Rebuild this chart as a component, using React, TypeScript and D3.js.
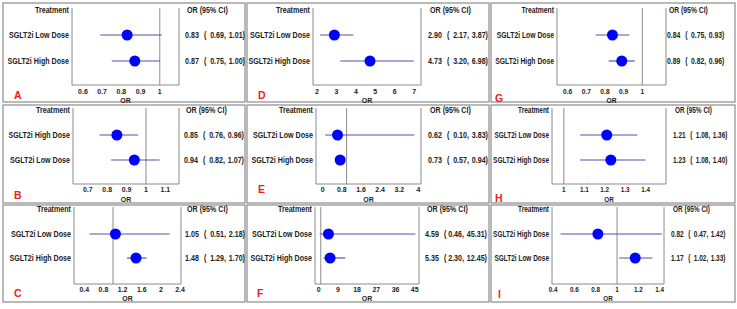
import * as d3 from 'd3'
import React from 'react'

// panels in reading order down each column
const panelIds = ['A', 'B', 'C', 'D', 'E', 'F', 'G', 'H', 'I']

const rowLabels = [
  ['SGLT2i Low Dose', 'SGLT2i High Dose'],
  ['SGLT2i High Dose', 'SGLT2i Low Dose'],
  ['SGLT2i Low Dose', 'SGLT2i High Dose'],
  ['SGLT2i Low Dose', 'SGLT2i High Dose'],
  ['SGLT2i Low Dose', 'SGLT2i High Dose'],
  ['SGLT2i Low Dose', 'SGLT2i High Dose'],
  ['SGLT2i Low Dose', 'SGLT2i High Dose'],
  ['SGLT2i Low Dose', 'SGLT2i High Dose'],
  ['SGLT2i High Dose', 'SGLT2i Low Dose']
]

const orValues = [
  [0.83, 0.87],
  [0.85, 0.94],
  [1.05, 1.48],
  [2.9, 4.73],
  [0.62, 0.73],
  [4.59, 5.35],
  [0.84, 0.89],
  [1.21, 1.23],
  [0.82, 1.17]
]
const ciLower = [
  [0.69, 0.75],
  [0.76, 0.82],
  [0.51, 1.29],
  [2.17, 3.2],
  [0.1, 0.57],
  [0.46, 2.3],
  [0.75, 0.82],
  [1.08, 1.08],
  [0.47, 1.02]
]
const ciUpper = [
  [1.01, 1.0],
  [0.96, 1.07],
  [2.18, 1.7],
  [3.87, 6.98],
  [3.83, 0.94],
  [45.31, 12.45],
  [0.93, 0.96],
  [1.36, 1.4],
  [1.42, 1.33]
]

const xDomains = [
  [0.543, 1.1],
  [0.624, 1.17],
  [0.185, 2.42],
  [1.8, 7.35],
  [-0.28, 4.11],
  [-1.7, 47],
  [0.543, 1.127],
  [0.942, 1.5],
  [0.39, 1.44]
]
const xTicks = [
  [0.6, 0.7, 0.8, 0.9, 1],
  [0.7, 0.8, 0.9, 1, 1.1],
  [0.4, 0.8, 1.2, 1.6, 2, 2.4],
  [2, 3, 4, 5, 6, 7],
  [0, 0.8, 1.6, 2.4, 3.2, 4],
  [0, 9, 18, 27, 36, 45],
  [0.6, 0.7, 0.8, 0.9, 1],
  [1, 1.1, 1.2, 1.3, 1.4],
  [0.4, 0.6, 0.8, 1, 1.2, 1.4]
]

// layout, relative to each panel box
const colX = [3, 247, 491]
const colW = [242, 242, 244]
const rowY = [3, 105, 205]
const rowH = [99, 98, 97]
const headY = [7, 5, 4]
const plotTop = [5, 3, 2]
const plotBottom = [82, 79, 79]
const rowRange = [[32, 58], [30, 55], [29, 53]]
const tickY = [88, 84.5, 84.5]
const axisTitleY = [97, 94, 93.5]
const plotLeft = [69, 70, 71, 66, 69, 68, 66, 61, 61]
const plotRight = [176, 176, 178, 174, 174, 172, 175, 175, 173]
const valueStart = [182, 181, 182, 181, 181, 178, 176, 182, 180]
const lowerEnd = [41, 41, 41, 41, 41, 39, 41, 41, 41]
const upperEnd = [60, 60, 60, 60, 60, 62, 60, 60, 60]
// horizontal squeeze of the text in each panel
const squash = [0.87, 0.87, 0.87, 0.87, 0.87, 0.87, 0.83, 0.79, 0.79]
const letterPos = [
  [11, 92], [11, 90], [11, 88],
  [11, 92], [11, 84], [10, 88],
  [4, 95], [4, 93], [7, 89]
]

const FONT = '"Liberation Sans", Arial, sans-serif'
const fmt = (v: number) => v.toFixed(2)
const tickFmt = (v: number) => String(+v.toFixed(2))

const T = ({ x, y, anchor = 'start', size = 8.2, sx = 0.87, fill = '#222', children }: any) => (
  <text
    transform={`translate(${x},${y}) scale(${sx},1)`}
    textAnchor={anchor}
    dominantBaseline="central"
    fontSize={size}
    fontWeight="bold"
    fill={fill}
  >
    {children}
  </text>
)

function Panel({ i }: { i: number }) {
  const col = Math.floor(i / 3)
  const row = i % 3
  const x0 = colX[col]
  const y0 = rowY[row]
  const w = colW[col]
  const h = rowH[row]
  const pl = plotLeft[i]
  const pr = plotRight[i]
  const top = plotTop[row]
  const bottom = plotBottom[row]
  const sx = squash[i]
  const k = sx / 0.87

  const x = d3.scaleLinear().domain(xDomains[i]).range([pl, pr])
  const y = d3.scalePoint().domain(rowLabels[i]).range(rowRange[row])
  const vs = valueStart[i]

  return (
    <g transform={`translate(${x0},${y0})`} fontFamily={FONT}>
      <rect x={0} y={0} width={w} height={h} fill="#fff" stroke="#8c8c8c" strokeWidth={1.2} />
      <T x={pl - 3} y={headY[row]} anchor="end" sx={sx}>Treatment</T>
      <T x={vs + 2} y={headY[row]} sx={sx}>OR (95% CI)</T>
      {/* plot frame, open at the top */}
      <path d={`M${pl},${top}V${bottom}H${pr}V${top}`} fill="none" stroke="#8a8a8a" strokeWidth={1} />
      {x.domain()[0] < 1 && x.domain()[1] > 1 && (
        <line x1={x(1)} x2={x(1)} y1={top} y2={bottom} stroke="#8a8a8a" strokeWidth={1} />
      )}
      {rowLabels[i].map((lab, j) => {
        const cy = y(lab) as number
        return (
          <g key={lab}>
            <T x={pl - 3} y={cy} anchor="end" sx={sx}>{lab}</T>
            <line x1={x(ciLower[i][j])} x2={x(ciUpper[i][j])} y1={cy} y2={cy} stroke="#5252a8" strokeWidth={1.2} />
            <circle cx={x(orValues[i][j])} cy={cy} r={5.5} fill="#0000ff" />
            <T x={vs} y={cy} sx={sx}>{fmt(orValues[i][j])}</T>
            <T x={vs + 19 * k} y={cy} sx={sx}>(</T>
            <T x={vs + lowerEnd[i] * k} y={cy} anchor="end" sx={sx}>{fmt(ciLower[i][j])},</T>
            <T x={vs + upperEnd[i] * k} y={cy} anchor="end" sx={sx}>{fmt(ciUpper[i][j])})</T>
          </g>
        )
      })}
      {xTicks[i].map(t => (
        <T key={t} x={x(t)} y={tickY[row]} anchor="middle" size={8} sx={sx}>{tickFmt(t)}</T>
      ))}
      <T x={(pl + pr) / 2} y={axisTitleY[row]} anchor="middle" size={8} sx={sx}>OR</T>
      <text x={letterPos[i][0]} y={letterPos[i][1]} dominantBaseline="central" fontSize={10.5} fontWeight="bold" fill="#ee1c1c">
        {panelIds[i]}
      </text>
    </g>
  )
}

export default function App() {
  return (
    <svg width={737} height={309} style={{ position: 'absolute', left: 0, top: 0, background: '#fff' }}>
      <rect width={737} height={309} fill="#fff" />
      {panelIds.map((id, i) => (
        <Panel key={id} i={i} />
      ))}
    </svg>
  )
}
